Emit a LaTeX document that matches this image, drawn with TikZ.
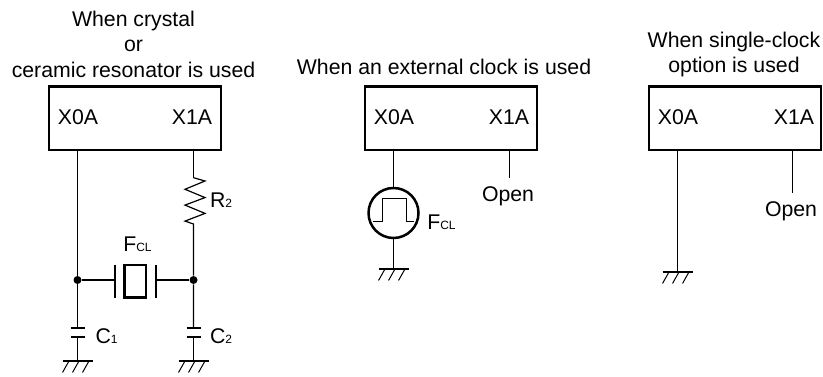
\documentclass[tikz,border=0pt]{standalone}
\usepackage{fontspec}
\setmainfont{Liberation Sans}
\usetikzlibrary{%
  calc,%
  positioning%
}
\newcommand{\lowtxt}[1]{{\fontsize{6.8}{7}\selectfont #1}}
% ground symbol hanging from a named coordinate
\newcommand{\gnd}[1]{%
  \draw[line width=0.04cm] ($(#1)+(-0.3,0)$) -- ($(#1)+(0.3,0)$);
  \foreach \hx in {-0.2,0,0.2} {
    \draw[line width=0.02cm] ($(#1)+(\hx+0.03,0)$) -- ($(#1)+(\hx-0.1,-0.23)$);
  }
}
\tikzset{
  chipbox/.style={draw,line width=0.05cm,minimum width=3.44cm,minimum height=1.27cm,inner sep=0pt},
  lbl/.style={font=\fontsize{12.1}{14.5}\selectfont,inner sep=0pt},
  caption/.style={lbl,align=center},
  wire/.style={line width=0.024cm},
  plate/.style={line width=0.05cm},
  dotnode/.style={circle,fill,inner sep=0pt,minimum size=0.16cm},
  srcnode/.style={circle,draw,line width=0.05cm,minimum size=1cm,inner sep=0pt}
}
\begin{document}
\begin{tikzpicture}
  \useasboundingbox (0,0) rectangle (16.46,7.54);

  % crystal or ceramic resonator
  \node[chipbox] (chipA) at (2.7,5.17) {};
  \node[lbl] (xzeroA) at (1.56,5.2) {X0A};
  \node[lbl] (xoneA) at (3.84,5.2) {X1A};
  \node[caption] (capA) at (2.67,6.66) {When crystal\\or\\ceramic resonator is used};
  \coordinate (resTop) at (3.87,3.986);
  \coordinate (resBot) at (3.87,3.06);
  \node[dotnode] (joinL) at (1.55,1.94) {};
  \node[dotnode] (joinR) at (3.87,1.94) {};
  \coordinate (plateL) at (2.3,1.94);
  \coordinate (plateR) at (3.12,1.94);
  \coordinate (capLa) at (1.55,0.98);
  \coordinate (capLb) at (1.55,0.8);
  \coordinate (capRa) at (3.87,0.98);
  \coordinate (capRb) at (3.87,0.8);
  \coordinate (gndL) at (1.55,0.32);
  \coordinate (gndR) at (3.87,0.32);
  \draw[wire] (chipA.south -| joinL) -- (joinL) -- (capLa);
  \draw[wire] (capLb) -- (gndL);
  \draw[wire] (chipA.south -| resTop) -- (resTop);
  \draw[wire] (resTop) -- ++(0.23,-0.066) -- ++(-0.4,-0.166) -- ++(0.4,-0.166) -- ++(-0.4,-0.15) -- ++(0.4,-0.166) -- ++(-0.4,-0.154) -- (resBot) -- (joinR) -- (capRa);
  \draw[wire] (capRb) -- (gndR);
  \draw[wire] (joinL) -- (plateL);
  \draw[wire] (plateR) -- (joinR);
  \draw[plate] ($(plateL)+(0,0.3)$) -- ($(plateL)+(0,-0.36)$);
  \draw[plate] ($(plateR)+(0,0.3)$) -- ($(plateR)+(0,-0.36)$);
  \draw[plate] (2.49,1.59) rectangle (2.92,2.24);
  \foreach \cpos in {capLa,capLb,capRa,capRb} {
    \draw[plate] ($(\cpos)+(-0.14,0)$) -- ($(\cpos)+(0.14,0)$);
  }
  \gnd{gndL}
  \gnd{gndR}
  \node[lbl] (resLbl) at (4.42,3.54) {R\lowtxt{2}};
  \node[lbl] (xtalLbl) at (2.75,2.66) {F\lowtxt{CL}};
  \node[lbl] (capLbl) at (2.13,0.82) {C\lowtxt{1}};
  \node[lbl] (capRLbl) at (4.42,0.82) {C\lowtxt{2}};

  % external clock
  \node[chipbox] (chipB) at (9.02,5.17) {};
  \node[lbl] (xzeroB) at (7.88,5.2) {X0A};
  \node[lbl] (xoneB) at (10.18,5.2) {X1A};
  \node[caption] (capB) at (8.88,6.2) {When an external clock is used};
  \node[srcnode] (clkSrc) at (7.87,3.28) {};
  \coordinate (openB) at (10.19,3.98);
  \coordinate (gndB) at (7.87,2.16);
  \draw[wire] (chipB.south -| clkSrc) -- (clkSrc.north);
  \draw[wire] (clkSrc.south) -- (gndB);
  \draw[wire] (chipB.south -| openB) -- (openB);
  \draw[line width=0.02cm] ($(clkSrc)+(-0.41,-0.18)$) -- ++(0.18,0) -- ++(0,0.46) -- ++(0.48,0) -- ++(0,-0.46) -- ++(0.16,0);
  \gnd{gndB}
  \node[lbl,below=0.17cm of openB,xshift=-0.03cm] (openLblB) {Open};
  \node[lbl] (clkLbl) at (8.83,3.1) {F\lowtxt{CL}};

  % single clock option
  \node[chipbox] (chipC) at (14.7,5.17) {};
  \node[lbl] (xzeroC) at (13.56,5.2) {X0A};
  \node[lbl] (xoneC) at (15.88,5.2) {X1A};
  \node[caption] (capC) at (14.68,6.45) {When single-clock\\option is used};
  \coordinate (gndC) at (13.55,2.1);
  \coordinate (openC) at (15.85,3.68);
  \draw[wire] (chipC.south -| gndC) -- (gndC);
  \draw[wire] (chipC.south -| openC) -- (openC);
  \gnd{gndC}
  \node[lbl,below=0.17cm of openC,xshift=-0.03cm] (openLblC) {Open};
\end{tikzpicture}
\end{document}
